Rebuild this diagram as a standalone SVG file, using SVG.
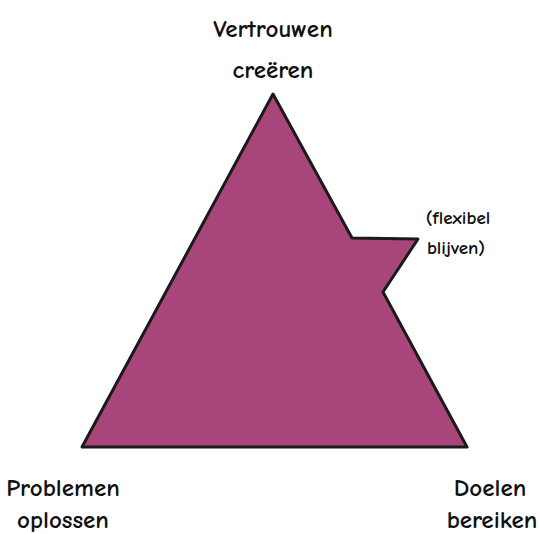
<svg xmlns="http://www.w3.org/2000/svg" width="540" height="534" viewBox="0 0 540 534">
<style>
.lbl{font-family:"Comic Neue","Liberation Sans","DejaVu Sans",sans-serif;fill:#111111;text-anchor:middle;font-weight:bold}
.big{font-size:25px}
.small{font-size:19px}
</style>
<rect width="540" height="534" fill="#ffffff"/>
<g id="triangle">
<polygon points="273,94 352,238 418,239 383,292 467,447 82,447" fill="#a8457a" stroke="#1a1a1a" stroke-width="3" stroke-linejoin="round"/>
</g>
<g id="top">
<text class="lbl big" x="273" y="37">Vertrouwen</text>
<text class="lbl big" x="273" y="78">creëren</text>
</g>
<g id="flex">
<text class="lbl small" x="458" y="224">(flexibel</text>
<text class="lbl small" x="456" y="254">blijven)</text>
</g>
<g id="left">
<text class="lbl big" x="63" y="496">Problemen</text>
<text class="lbl big" x="63" y="528">oplossen</text>
</g>
<g id="right">
<text class="lbl big" x="490" y="496">Doelen</text>
<text class="lbl big" x="492" y="528">bereiken</text>
</g>
<g id="connectors"></g>
</svg>
